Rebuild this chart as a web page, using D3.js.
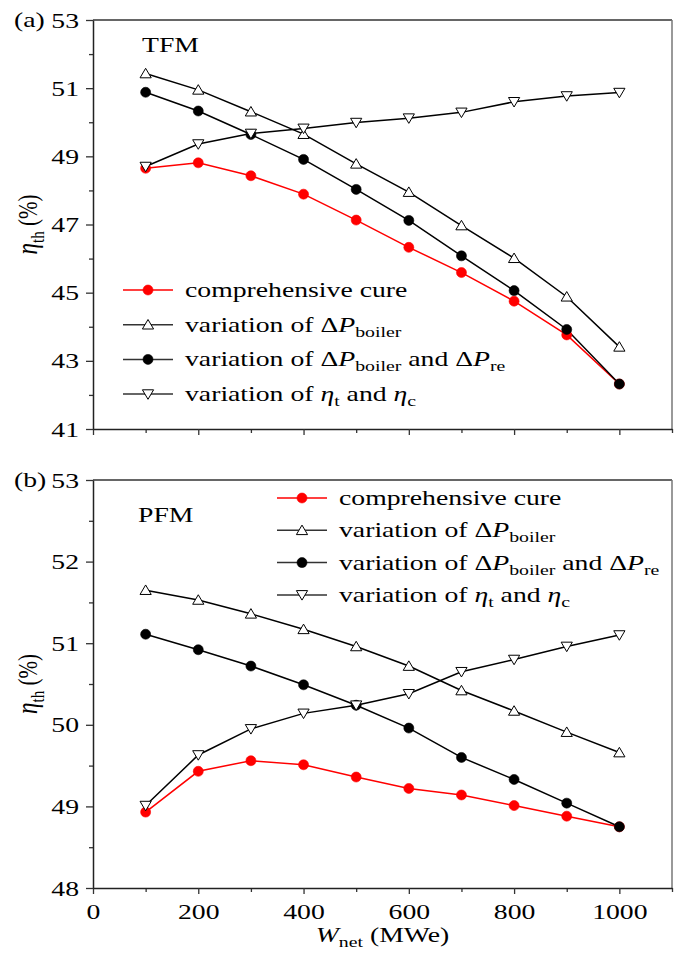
<!DOCTYPE html>
<html>
<head>
<meta charset="utf-8">
<script src="https://cdn.jsdelivr.net/npm/d3@7"></script>
<style>
  body { margin: 0; background: #fff; }
  svg { font-family: "Liberation Serif", "Times New Roman", serif; }
</style>
</head>
<body>
<div id="chart"></div>
<script>
// Net power output (MWe)
const wNet = [100, 200, 300, 400, 500, 600, 700, 800, 900, 1000];

// (a) TFM, thermal efficiency (%)
const tfmComprehensive = [48.65, 48.81, 48.43, 47.89, 47.13, 46.33, 45.59, 44.75, 43.76, 42.32];
const tfmBoiler        = [51.43, 50.95, 50.31, 49.65, 48.78, 47.95, 46.97, 46.01, 44.88, 43.41];
const tfmBoilerRe      = [50.88, 50.33, 49.64, 48.91, 48.03, 47.12, 46.08, 45.06, 43.92, 42.32];
const tfmTurbComp      = [48.70, 49.36, 49.67, 49.82, 49.99, 50.12, 50.29, 50.60, 50.77, 50.87];

// (b) PFM, thermal efficiency (%)
const pfmComprehensive = [48.93, 49.43, 49.56, 49.51, 49.36, 49.22, 49.14, 49.01, 48.88, 48.75];
const pfmBoiler        = [51.65, 51.53, 51.36, 51.17, 50.96, 50.72, 50.42, 50.17, 49.91, 49.66];
const pfmBoilerRe      = [51.11, 50.92, 50.72, 50.49, 50.24, 49.96, 49.60, 49.33, 49.04, 48.75];
const pfmTurbComp      = [49.01, 49.63, 49.95, 50.14, 50.24, 50.38, 50.65, 50.80, 50.96, 51.10];

const xTicks = [0, 200, 400, 600, 800, 1000];
const tfmTicks = [41, 43, 45, 47, 49, 51, 53];
const pfmTicks = [48, 49, 50, 51, 52, 53];

const width = 681, height = 960;
const left = 93, right = 672;
const sx = 1.32;      // the original figure is stretched horizontally
const fs = 21;

const svg = d3.select("#chart").append("svg")
    .attr("width", width)
    .attr("height", height);

const x = d3.scaleLinear().domain([0, 1100]).range([left, right]);

const upTri = "M0,-5.2L5.6,4.3L-5.6,4.3Z";
const downTri = "M0,5.2L5.6,-4.3L-5.6,-4.3Z";

const seriesStyle = [
    {key: "comp", color: "#ff0000", marker: "circle"},
    {key: "boiler", color: "#000", marker: "up"},
    {key: "boilerRe", color: "#000", marker: "dot"},
    {key: "turb", color: "#000", marker: "down"}
];

function drawMarker(g, type, color) {
    if (type === "circle" || type === "dot") {
        g.append("circle").attr("r", 5).attr("fill", color).attr("stroke", color).attr("stroke-width", 0.6);
    } else {
        g.append("path").attr("d", type === "up" ? upTri : downTri)
            .attr("fill", "#fff").attr("stroke", "#000").attr("stroke-width", 1);
    }
}

// legend entry label, with subscripts and italics
function legendLabel(t, key) {
    const sub = (s) => t.append("tspan").attr("font-size", 15).attr("dy", 5).text(s);
    const back = (s) => t.append("tspan").attr("dy", -5).text(s);
    if (key === "comp") {
        t.append("tspan").text("comprehensive cure");
    } else if (key === "boiler") {
        t.append("tspan").text("variation of Δ");
        t.append("tspan").attr("font-style", "italic").text("P");
        sub("boiler");
    } else if (key === "boilerRe") {
        t.append("tspan").text("variation of Δ");
        t.append("tspan").attr("font-style", "italic").text("P");
        sub("boiler");
        back(" and Δ").attr("font-size", fs);
        t.append("tspan").attr("font-style", "italic").text("P");
        sub("re");
    } else {
        t.append("tspan").text("variation of ");
        t.append("tspan").attr("font-style", "italic").text("η");
        sub("t");
        back(" and ");
        t.append("tspan").attr("font-style", "italic").text("η");
        sub("c");
    }
}

function stretchedText(g, px, py, str) {
    return g.append("text")
        .attr("transform", `translate(${px},${py}) scale(${sx},1)`)
        .attr("font-size", fs)
        .text(str);
}

function drawPanel(opt) {
    const g = svg.append("g");
    const y = d3.scaleLinear().domain(opt.yDomain).range([opt.bottom, opt.top]);

    // frame: top and right edges
    g.append("line").attr("x1", left).attr("x2", right).attr("y1", opt.top).attr("y2", opt.top)
        .attr("stroke", "#333").attr("stroke-width", 1.5);
    g.append("line").attr("x1", right).attr("x2", right).attr("y1", opt.top).attr("y2", opt.bottom)
        .attr("stroke", "#777").attr("stroke-width", 1.5);

    // minor ticks
    g.append("g")
        .attr("transform", `translate(0,${opt.bottom})`)
        .call(d3.axisBottom(x).tickValues(d3.range(100, 1101, 200)).tickSize(4).tickFormat(""))
        .call(a => a.select(".domain").remove())
        .selectAll("line").attr("stroke", "#333").attr("stroke-width", 1.3);
    g.append("g")
        .attr("transform", `translate(${left},0)`)
        .call(d3.axisLeft(y).tickValues(opt.minor).tickSize(4).tickFormat(""))
        .call(a => a.select(".domain").remove())
        .selectAll("line").attr("stroke", "#333").attr("stroke-width", 1.3);

    // x axis
    const xa = g.append("g")
        .attr("transform", `translate(0,${opt.bottom})`)
        .call(d3.axisBottom(x).tickValues(xTicks).tickSize(6).tickSizeOuter(0)
            .tickFormat(opt.xLabels ? d3.format("d") : ""));
    xa.select(".domain").attr("stroke", "#222").attr("stroke-width", 1.5);
    xa.selectAll(".tick line").attr("stroke", "#333").attr("stroke-width", 1.3);
    xa.selectAll("text")
        .attr("y", 0).attr("dy", 0)
        .attr("transform", `translate(0,31) scale(${sx},1)`)
        .attr("font-size", fs).attr("font-family", "Liberation Serif, serif").attr("fill", "#000");

    // y axis
    const ya = g.append("g")
        .attr("transform", `translate(${left},0)`)
        .call(d3.axisLeft(y).tickValues(opt.ticks).tickSize(7).tickSizeOuter(0).tickFormat(d3.format("d")));
    ya.select(".domain").attr("stroke", "#222").attr("stroke-width", 1.5);
    ya.selectAll(".tick line").attr("stroke", "#333").attr("stroke-width", 1.3);
    ya.selectAll("text")
        .attr("x", 0).attr("dy", "0.34em")
        .attr("transform", `translate(-14,0) scale(${sx},1)`)
        .attr("font-size", fs).attr("font-family", "Liberation Serif, serif").attr("fill", "#000");

    // panel tag, e.g. "(a)"
    stretchedText(g, 14, opt.top + 7, opt.tag);
    stretchedText(g, opt.nameX, opt.nameY, opt.name);

    // y axis title
    const yt = g.append("text")
        .attr("transform", `translate(37,${(opt.top + opt.bottom) / 2}) scale(${sx},1) rotate(-90)`)
        .attr("text-anchor", "middle")
        .attr("font-size", fs);
    yt.append("tspan").attr("font-style", "italic").attr("font-size", 23).text("η");
    yt.append("tspan").attr("font-size", 15).attr("dy", 5).text("th");
    yt.append("tspan").attr("dy", -5).text(" (%)");

    // lines and markers
    const line = d3.line().x((d, i) => x(wNet[i])).y(d => y(d));
    const order = [0, 1, 2, 3];
    order.forEach(k => {
        const s = seriesStyle[k];
        g.append("path")
            .datum(opt.series[k])
            .attr("fill", "none")
            .attr("stroke", s.color)
            .attr("stroke-width", 1.5)
            .attr("d", line);
    });
    order.forEach(k => {
        const s = seriesStyle[k];
        opt.series[k].forEach((v, i) => {
            const m = g.append("g").attr("transform", `translate(${x(wNet[i])},${y(v)})`);
            drawMarker(m, s.marker, s.color);
        });
    });

    // legend
    seriesStyle.forEach((s, i) => {
        const ly = opt.legendY + i * opt.legendStep;
        const lg = g.append("g");
        lg.append("line")
            .attr("x1", opt.legendX).attr("x2", opt.legendX + 50)
            .attr("y1", ly).attr("y2", ly)
            .attr("stroke", s.color === "#000" ? "#333" : s.color).attr("stroke-width", 1.5);
        const m = lg.append("g").attr("transform", `translate(${opt.legendX + 25},${ly})`);
        drawMarker(m, s.marker, s.color);
        const t = stretchedText(lg, opt.legendX + 62, ly + 7, "");
        legendLabel(t, s.key);
    });
}

drawPanel({
    top: 20, bottom: 429, yDomain: [41, 53],
    ticks: tfmTicks, minor: [42, 44, 46, 48, 50, 52],
    xLabels: false, tag: "(a)", name: "TFM", nameX: 142, nameY: 52,
    series: [tfmComprehensive, tfmBoiler, tfmBoilerRe, tfmTurbComp],
    legendX: 123, legendY: 290, legendStep: 34.7
});

drawPanel({
    top: 480, bottom: 888, yDomain: [48, 53],
    ticks: pfmTicks, minor: [48.5, 49.5, 50.5, 51.5, 52.5],
    xLabels: true, tag: "(b)", name: "PFM", nameX: 138, nameY: 522,
    series: [pfmComprehensive, pfmBoiler, pfmBoilerRe, pfmTurbComp],
    legendX: 277, legendY: 498, legendStep: 32.3
});

// x axis title
const xt = svg.append("text")
    .attr("transform", `translate(${(left + right) / 2},942) scale(${sx},1)`)
    .attr("text-anchor", "middle")
    .attr("font-size", fs);
xt.append("tspan").attr("font-style", "italic").text("W");
xt.append("tspan").attr("font-size", 15).attr("dy", 5).text("net");
xt.append("tspan").attr("dy", -5).text(" (MWe)");
</script>
</body>
</html>
